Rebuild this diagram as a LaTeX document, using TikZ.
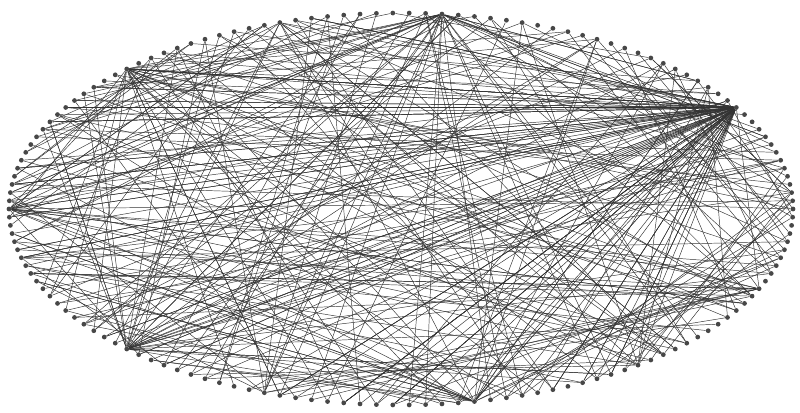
\documentclass[tikz,border=0pt]{standalone}
\usepackage{tikz}

\begin{document}
\begin{tikzpicture}[x=0.025cm,y=0.025cm,
    vertex/.style={circle,fill=black!72,inner sep=0pt,minimum size=3.4pt},
    link/.style={black!80,line width=0.33pt}]
    \useasboundingbox (0,0) rectangle (800,413);
    \pgfmathsetseed{23}
    % nodes on the ring
    \foreach \i in {0,...,149}
      \node[vertex] (n\i) at ({401+392*cos(2.4*\i)},{204+196*sin(2.4*\i)}) {};
    % the big hub on the right
    \foreach \j in {1,...,85} {
      \pgfmathtruncatemacro{\t}{mod(13+random(30,115),150)}
      \draw[link] (n13) -- (n\t);
    }
    % smaller hubs
    \foreach \h/\k in {35/30,56/22,75/14,94/24,117/18,128/10,140/10,2/6,45/6,104/6} {
      \foreach \j in {1,...,\k} {
        \pgfmathtruncatemacro{\t}{mod(\h+random(18,132),150)}
        \draw[link] (n\h) -- (n\t);
      }
    }
    % remaining links
    \foreach \j in {1,...,110} {
      \pgfmathtruncatemacro{\a}{random(0,149)}
      \pgfmathtruncatemacro{\b}{mod(\a+random(15,135),150)}
      \draw[link] (n\a) -- (n\b);
    }
  \end{tikzpicture}
\end{document}
